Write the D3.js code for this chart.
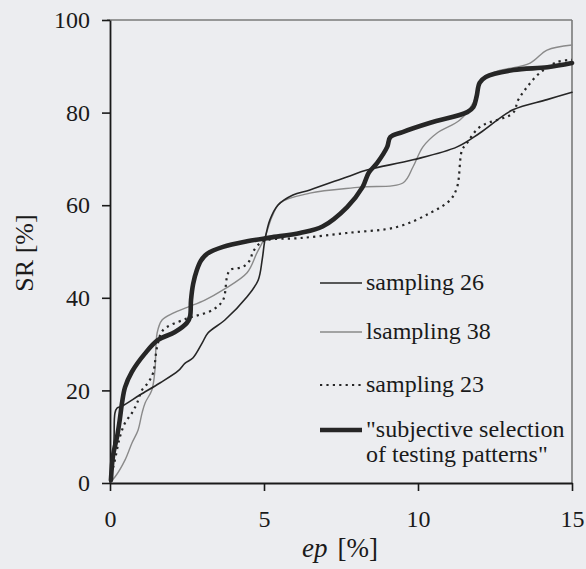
<!DOCTYPE html>
<html>
<head>
<meta charset="utf-8">
<script src="https://cdn.jsdelivr.net/npm/d3@7"></script>
<style>
  html, body { margin: 0; padding: 0; background: #ecedf0; }
  svg { display: block; }
  svg text { font-family: "Times New Roman", "Liberation Serif", Times, serif !important; fill: #1a1a1a; }
</style>
</head>
<body>
<svg id="chart" width="586" height="569"></svg>
<script>
// ---------- data (ep [%], SR [%]) ----------
const xTicks = [0, 5, 10, 15];
const yTicks = [0, 20, 40, 60, 80, 100];

const sampling26 = [
  [0,0.2],[0.06,2.8],[0.13,9.3],[0.16,15.1],[0.23,16.2],[0.39,16.6],[0.97,19.0],
  [1.62,21.6],[2.21,24.2],[2.44,25.9],[2.69,27.0],[2.99,30.2],[3.18,32.4],[3.73,35.2],
  [4.45,40.2],[4.81,43.8],[4.94,48.2],[5.03,52.5],[5.19,56.8],[5.45,60.0],[5.94,62.2],
  [6.49,63.3],[7.69,66.1],[8.34,67.6],[9.84,69.8],[11.27,72.6],[12.01,75.6],[13.08,80.6],
  [14.19,82.8],[15,84.4]
];

const sampling38 = [
  [0,0.2],[0.16,1.3],[0.49,5.0],[0.71,8.6],[0.91,11.4],[1.04,15.1],[1.14,17.3],[1.36,20.1],
  [1.46,24.4],[1.53,32.4],[1.69,35.2],[2.05,36.7],[2.53,38.0],[3.08,39.5],[3.67,41.7],
  [4.45,45.4],[4.77,49.7],[5.03,53.1],[5.26,57.5],[5.52,60.5],[6.49,62.6],[8.12,63.9],
  [9.51,64.8],[9.84,68.3],[10.16,72.6],[10.62,75.6],[11.36,78.4],[11.79,82.1],[12.01,86.4],
  [12.44,88.6],[13.64,90.7],[14.19,93.5],[15,94.6]
];

const sampling23 = [
  [0,0.6],[0.06,2.2],[0.16,5.0],[0.32,9.9],[0.49,13.0],[0.71,15.1],[0.88,17.3],[1.04,20.1],
  [1.23,21.6],[1.40,23.8],[1.53,29.4],[1.72,33.0],[2.37,35.2],[2.69,35.9],[3.34,37.4],
  [3.67,39.5],[3.80,44.5],[3.90,46.0],[4.32,46.7],[4.55,48.2],[4.64,49.9],[4.87,51.8],
  [5.10,52.5],[6.17,52.9],[7.69,54.0],[9.32,55.3],[10.39,58.3],[11.04,61.1],[11.27,63.9],
  [11.43,71.9],[11.59,73.4],[12.01,76.9],[13.08,79.9],[13.25,82.7],[13.54,85.5],
  [13.96,88.6],[14.51,90.9],[15,91.4]
];

const subjective = [
  [0.03,0.6],[0.1,6],[0.23,10],[0.32,13.8],[0.39,17.3],[0.49,20.7],[0.71,24],[1.14,28],
  [1.56,30.9],[2.11,32.6],[2.5,34.6],[2.6,36],[2.63,39.5],[2.7,43],[2.82,46],[2.95,48],
  [3.15,49.5],[3.67,51],[4.45,52.2],[5.19,53],[6.17,54],[6.9,55.4],[7.7,59.6],[8.2,63.9],
  [8.4,67],[8.67,69.1],[9.0,72.6],[9.1,74.7],[9.5,75.8],[10.4,77.8],[11.6,80.1],[11.8,81.2],
  [11.9,83.4],[12.0,86.4],[12.2,87.7],[13.1,89.2],[14.2,89.8],[15,90.7]
];

const legendLabels = [
  ["sampling 26"],
  ["lsampling 38"],
  ["sampling 23"],
  ["\"subjective selection", "of testing patterns\""]
];

// ---------- layout ----------
const FONT = "'Times New Roman', 'Liberation Serif', Times, serif";
const svg = d3.select("#chart");
const X0 = 110, X1 = 572, Y0 = 483, Y1 = 20;
const x = d3.scaleLinear().domain([0, 15]).range([X0, X1]);
const y = d3.scaleLinear().domain([0, 100]).range([Y0, Y1]);

// frame (top / right gray)
svg.append("line").attr("x1", X0 - 3).attr("x2", X1).attr("y1", Y1).attr("y2", Y1)
  .attr("stroke", "#7a7a7a").attr("stroke-width", 1.6);
svg.append("line").attr("x1", X1).attr("x2", X1).attr("y1", Y1).attr("y2", Y0)
  .attr("stroke", "#7a7a7a").attr("stroke-width", 1.6);

// axes
const yAxis = svg.append("g").attr("transform", `translate(${X0},0)`)
  .call(d3.axisLeft(y).tickValues(yTicks).tickSize(8).tickSizeOuter(0).tickPadding(12));
const xAxis = svg.append("g").attr("transform", `translate(0,${Y0})`)
  .call(d3.axisBottom(x).tickValues(xTicks).tickSize(8).tickSizeOuter(0));

[yAxis, xAxis].forEach(g => {
  g.attr("font-family", FONT).attr("font-size", 24);
  g.selectAll("path.domain").attr("stroke", "#1a1a1a").attr("stroke-width", 1.8);
  g.selectAll(".tick line").attr("stroke", "#1a1a1a").attr("stroke-width", 1.6);
  g.selectAll("text").style("font-family", FONT)
    .style("font-size", "24px").attr("fill", "#1a1a1a");
});
xAxis.selectAll("text").attr("y", 44).attr("dy", 0);

// axis titles
svg.append("text")
  .attr("transform", "translate(33,253) rotate(-90)")
  .attr("text-anchor", "middle")
  .style("font-family", FONT)
  .style("font-size", "26px")
  .text("SR [%]");

const xt = svg.append("text")
  .attr("x", 340).attr("y", 557)
  .attr("text-anchor", "middle")
  .style("font-family", FONT)
  .style("font-size", "27px");
xt.append("tspan").style("font-style", "italic").text("ep");
xt.append("tspan").attr("dx", 10).text("[%]");

// ---------- curves ----------
const line = d3.line()
  .x(d => x(d[0])).y(d => y(d[1]))
  .curve(d3.curveCatmullRom.alpha(0.5));

const series = [
  { data: sampling38, stroke: "#8a8a8a", width: 1.4, dash: null },
  { data: sampling26, stroke: "#262626", width: 1.6, dash: null },
  { data: sampling23, stroke: "#262626", width: 2.2, dash: "2.2,4.2" },
  { data: subjective, stroke: "#262626", width: 4.6, dash: null }
];

const plot = svg.append("g");
series.forEach(s => {
  plot.append("path")
    .attr("d", line(s.data))
    .attr("fill", "none")
    .attr("stroke", s.stroke)
    .attr("stroke-width", s.width)
    .attr("stroke-linejoin", "round")
    .attr("stroke-linecap", s.dash ? "butt" : "round")
    .attr("stroke-dasharray", s.dash);
});

// ---------- legend ----------
const legendStyles = [
  { stroke: "#262626", width: 1.6, dash: null, y: 283 },
  { stroke: "#8a8a8a", width: 1.4, dash: null, y: 332 },
  { stroke: "#262626", width: 2.2, dash: "2.2,4.2", y: 385 },
  { stroke: "#262626", width: 4.6, dash: null, y: 430 }
];
const lg = svg.append("g");
legendLabels.forEach((lbl, i) => {
  const st = legendStyles[i];
  lg.append("line")
    .attr("x1", 320).attr("x2", 362).attr("y1", st.y).attr("y2", st.y)
    .attr("stroke", st.stroke).attr("stroke-width", st.width)
    .attr("stroke-dasharray", st.dash);
  const t = lg.append("text").attr("x", 366).attr("y", st.y + 7)
    .style("font-family", FONT)
    .style("font-size", "24px");
  lbl.forEach((s, j) => {
    t.append("tspan").attr("x", 366).attr("dy", j === 0 ? 0 : 25).text(s);
  });
});
</script>
</body>
</html>
